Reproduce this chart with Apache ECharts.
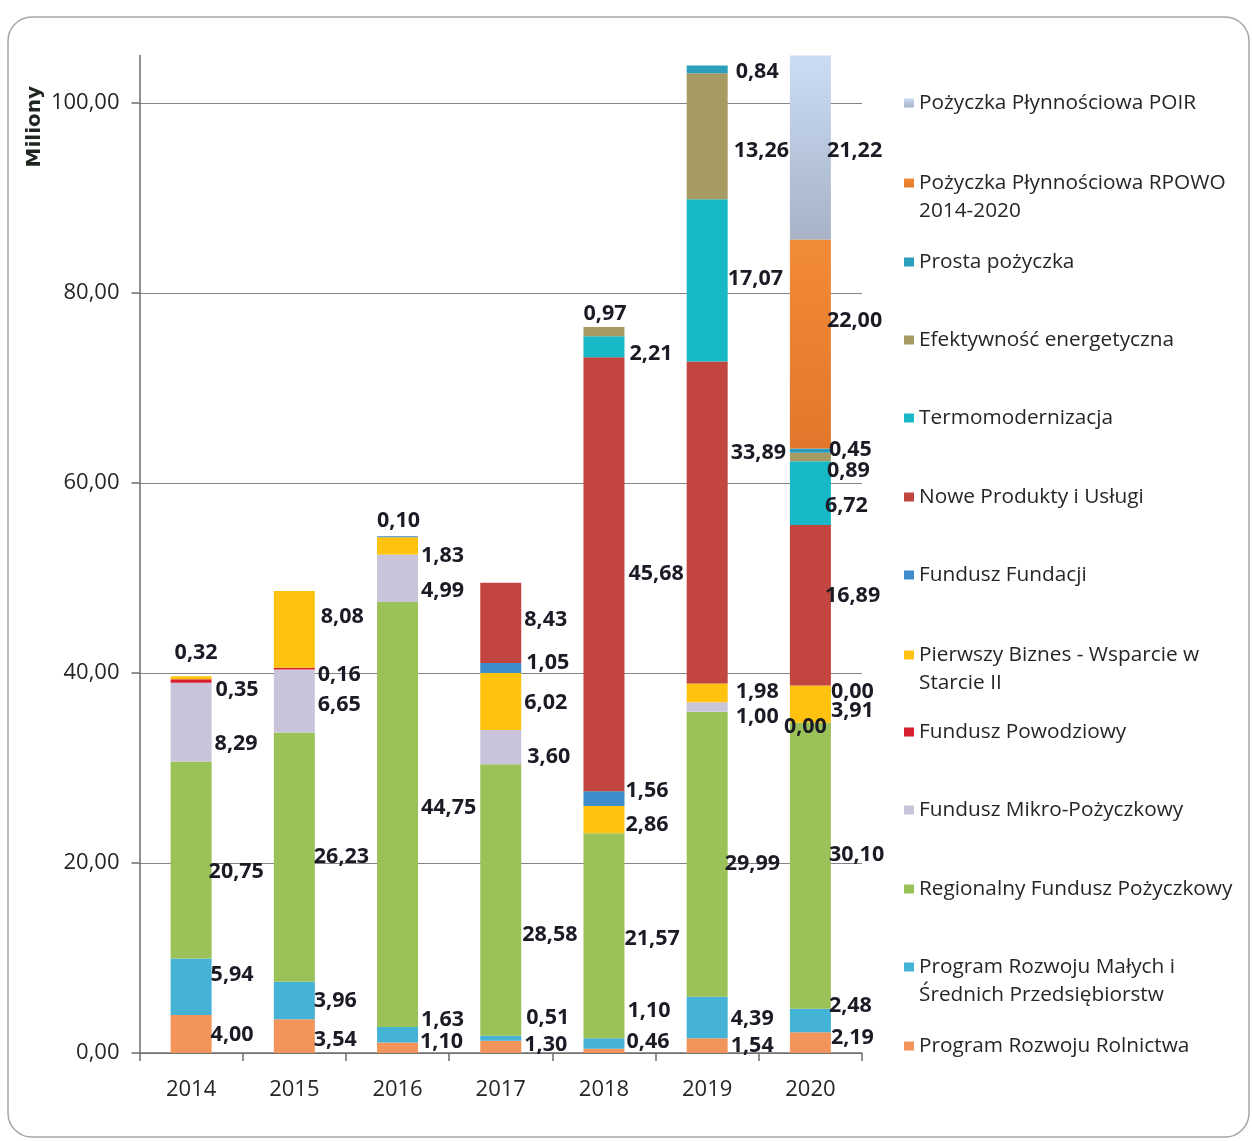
<!DOCTYPE html>
<html>
<head>
<meta charset="utf-8">
<script src="https://cdn.jsdelivr.net/npm/echarts@6/dist/echarts.min.js"></script>
<style>
  html, body { margin: 0; padding: 0; background: #ffffff; }
  #chart { width: 1252px; height: 1141px; }
</style>
</head>
<body>
<div id="chart"></div>
<script>
// ---------------- DATA ----------------
const years = ['2014', '2015', '2016', '2017', '2018', '2019', '2020'];
const yTicks = [0, 20, 40, 60, 80, 100];

const seriesNames = [
  'Program Rozwoju Rolnictwa',
  'Program Rozwoju Małych i Średnich Przedsiębiorstw',
  'Regionalny Fundusz Pożyczkowy',
  'Fundusz Mikro-Pożyczkowy',
  'Fundusz Powodziowy',
  'Pierwszy Biznes - Wsparcie w Starcie II',
  'Fundusz Fundacji',
  'Nowe Produkty i Usługi',
  'Termomodernizacja',
  'Efektywność energetyczna',
  'Prosta pożyczka',
  'Pożyczka Płynnościowa RPOWO 2014-2020',
  'Pożyczka Płynnościowa POIR'
];

const rolnictwa      = [4.00, 3.54, 1.10, 1.30, 0.46, 1.54, 2.19];
const msp            = [5.94, 3.96, 1.63, 0.51, 1.10, 4.39, 2.48];
const regionalny     = [20.75, 26.23, 44.75, 28.58, 21.57, 29.99, 30.10];
const mikro          = [8.29, 6.65, 4.99, 3.60, null, 1.00, 0.00];
const powodziowy     = [0.35, 0.16, null, null, null, null, null];
const pierwszyBiznes = [0.32, 8.08, 1.83, 6.02, 2.86, 1.98, 3.91];
const fundacji       = [null, null, 0.10, 1.05, 1.56, null, 0.00];
const noweProdukty   = [null, null, null, 8.43, 45.68, 33.89, 16.89];
const termo          = [null, null, null, null, 2.21, 17.07, 6.72];
const efektywnosc    = [null, null, null, null, 0.97, 13.26, 0.89];
const prosta         = [null, null, null, null, null, 0.84, 0.45];
const rpowo          = [null, null, null, null, null, null, 22.00];
const poir           = [null, null, null, null, null, null, 21.22];

const seriesValues = [rolnictwa, msp, regionalny, mikro, powodziowy, pierwszyBiznes,
  fundacji, noweProdukty, termo, efektywnosc, prosta, rpowo, poir];

// ---------------- STYLE / LAYOUT ----------------
const grad = (a, b) => ({ type: 'linear', x: 0, y: 0, x2: 0, y2: 1,
  colorStops: [{ offset: 0, color: a }, { offset: 1, color: b }] });

const seriesColors = [
  '#F3945A', '#45B3D6', '#9BC159', '#CAC4DB', '#D71F30', '#FFC20E',
  '#3E8CCB', '#C2453F', '#17B9C6', '#A69B63', '#2C9DBA',
  grad('#F28B36', '#E2772B'), grad('#CADDF5', '#A7B2C6')
];

// label nudges [dx, dy] relative to position "right" (manual placement as in the original)
const labelNudge = [
  [[-4, 1], [-4, 4], [-1, -6], [0, -2], [-1, -9], [0, 0], [-3, -5]],
  [[-4, -12], [-4, 0], [0, -15], [2, -20], [0, -33], [0, 1], [-5, -15]],
  [[-6, 12], [-4, 0], [0, -7], [-2, 35], [-3, 3], [-6, 10], [-5, -11]],
  [[0, 22], [0, 4], [0, 13], [3, 10], null, [5, 10], [-50, 4]],
  [[1, 9], [0, 6], null, null, null, null, null],
  [[-40, -25], [3, -13], [0, 10], [0, 1], [-2, 5], [5, -1], [-3, 7]],
  [null, null, [-44, -16], [2, -5], [-2, -8], null, [-3, 6]],
  [null, null, null, [0, -3], [1, 0], [0, -70], [-9, -9]],
  [null, null, null, null, [2, 7], [-3, -2], [-9, 13]],
  [null, null, null, null, [-44, -18], [3, 15], [-7, 14]],
  [null, null, null, null, null, [5, 3], [-5, -1]],
  [null, null, null, null, null, null, [-7, -23]],
  [null, null, null, null, null, null, [-7, 3]]
];

// legend rows (centre y of first text line), top to bottom
const legendRows = [
  [12, 103], [11, 183], [10, 262], [9, 340], [8, 418], [7, 497], [6, 575],
  [5, 655], [4, 732], [3, 810], [2, 889], [1, 967], [0, 1046]
];
const legendWrap = {
  'Pożyczka Płynnościowa RPOWO 2014-2020': 'Pożyczka Płynnościowa RPOWO\n2014-2020',
  'Pierwszy Biznes - Wsparcie w Starcie II': 'Pierwszy Biznes - Wsparcie w\nStarcie II',
  'Program Rozwoju Małych i Średnich Przedsiębiorstw': 'Program Rozwoju Małych i\nŚrednich Przedsiębiorstw'
};
const LEG_LH = 28;

const fmt = v => v.toFixed(2).replace('.', ',');

const legends = legendRows.map(([si, yc]) => {
  const name = seriesNames[si];
  const wrapped = legendWrap[name];
  const lines = wrapped ? 3 : 1;
  return {
    show: true,
    data: [name],
    orient: 'vertical',
    left: 904,
    top: yc - (lines * LEG_LH) / 2,
    padding: 0,
    icon: 'rect',
    itemWidth: 10,
    itemHeight: 9,
    selectedMode: false,
    formatter: n => legendWrap[n] ? '\n' + legendWrap[n] : n,
    textStyle: { fontFamily: 'Open Sans', fontSize: 20.8, color: '#262626', lineHeight: LEG_LH }
  };
});

const series = seriesValues.map((vals, i) => ({
  name: seriesNames[i],
  type: 'bar',
  stack: 'total',
  barWidth: 41,
  itemStyle: { color: seriesColors[i] },
  label: {
    show: true,
    position: 'right',
    distance: 3,
    color: '#1b1b26',
    fontFamily: 'Open Sans',
    fontWeight: 'bold',
    fontSize: 21.5,
    formatter: p => (p.value == null ? '' : fmt(p.value))
  },
  data: vals.map((v, j) => v == null ? null : {
    value: v,
    label: { offset: (labelNudge[i][j] || [0, 0]) }
  })
}));

const chart = echarts.init(document.getElementById('chart'), null, { renderer: 'canvas' });
chart.setOption({
  animation: false,
  backgroundColor: '#ffffff',
  grid: { left: 139.5, right: 390, top: 55.5, bottom: 88, outerBoundsMode: 'none' },
  legend: legends,
  xAxis: {
    type: 'category',
    data: years,
    axisLine: { show: true, lineStyle: { color: '#6e6e6e', width: 1.5 } },
    axisTick: { show: true, length: 8, alignWithLabel: false, lineStyle: { color: '#6e6e6e', width: 1.5 } },
    axisLabel: { margin: 26, fontFamily: 'Open Sans', fontSize: 22, color: '#262626' },
    splitLine: { show: false }
  },
  yAxis: {
    type: 'value',
    min: yTicks[0],
    max: 105,
    interval: 20,
    axisLine: { show: true, lineStyle: { color: '#6e6e6e', width: 1.5 } },
    axisTick: { show: true, length: 8, lineStyle: { color: '#6e6e6e', width: 1.5 } },
    axisLabel: {
      margin: 20, fontFamily: 'Open Sans', fontSize: 22, color: '#262626',
      showMaxLabel: false,
      formatter: v => (yTicks.indexOf(v) >= 0 ? fmt(v) : '')
    },
    splitLine: { show: true, showMaxLine: false, lineStyle: { color: '#858585', width: 1.2 } }
  },
  graphic: [
    {
      type: 'rect', silent: true, z: -1,
      shape: { x: 8, y: 17, width: 1241, height: 1120, r: 24 },
      style: { fill: 'none', stroke: '#a2a6ad', lineWidth: 1.5 }
    },
    {
      type: 'text', left: 25, top: 86, rotation: Math.PI / 2,
      style: { text: 'Miliony', fontFamily: 'DejaVu Sans', fontWeight: 'bold', fontSize: 20, lineHeight: 20, fill: '#1f261f' }
    }
  ],
  series: series
});
</script>
</body>
</html>
